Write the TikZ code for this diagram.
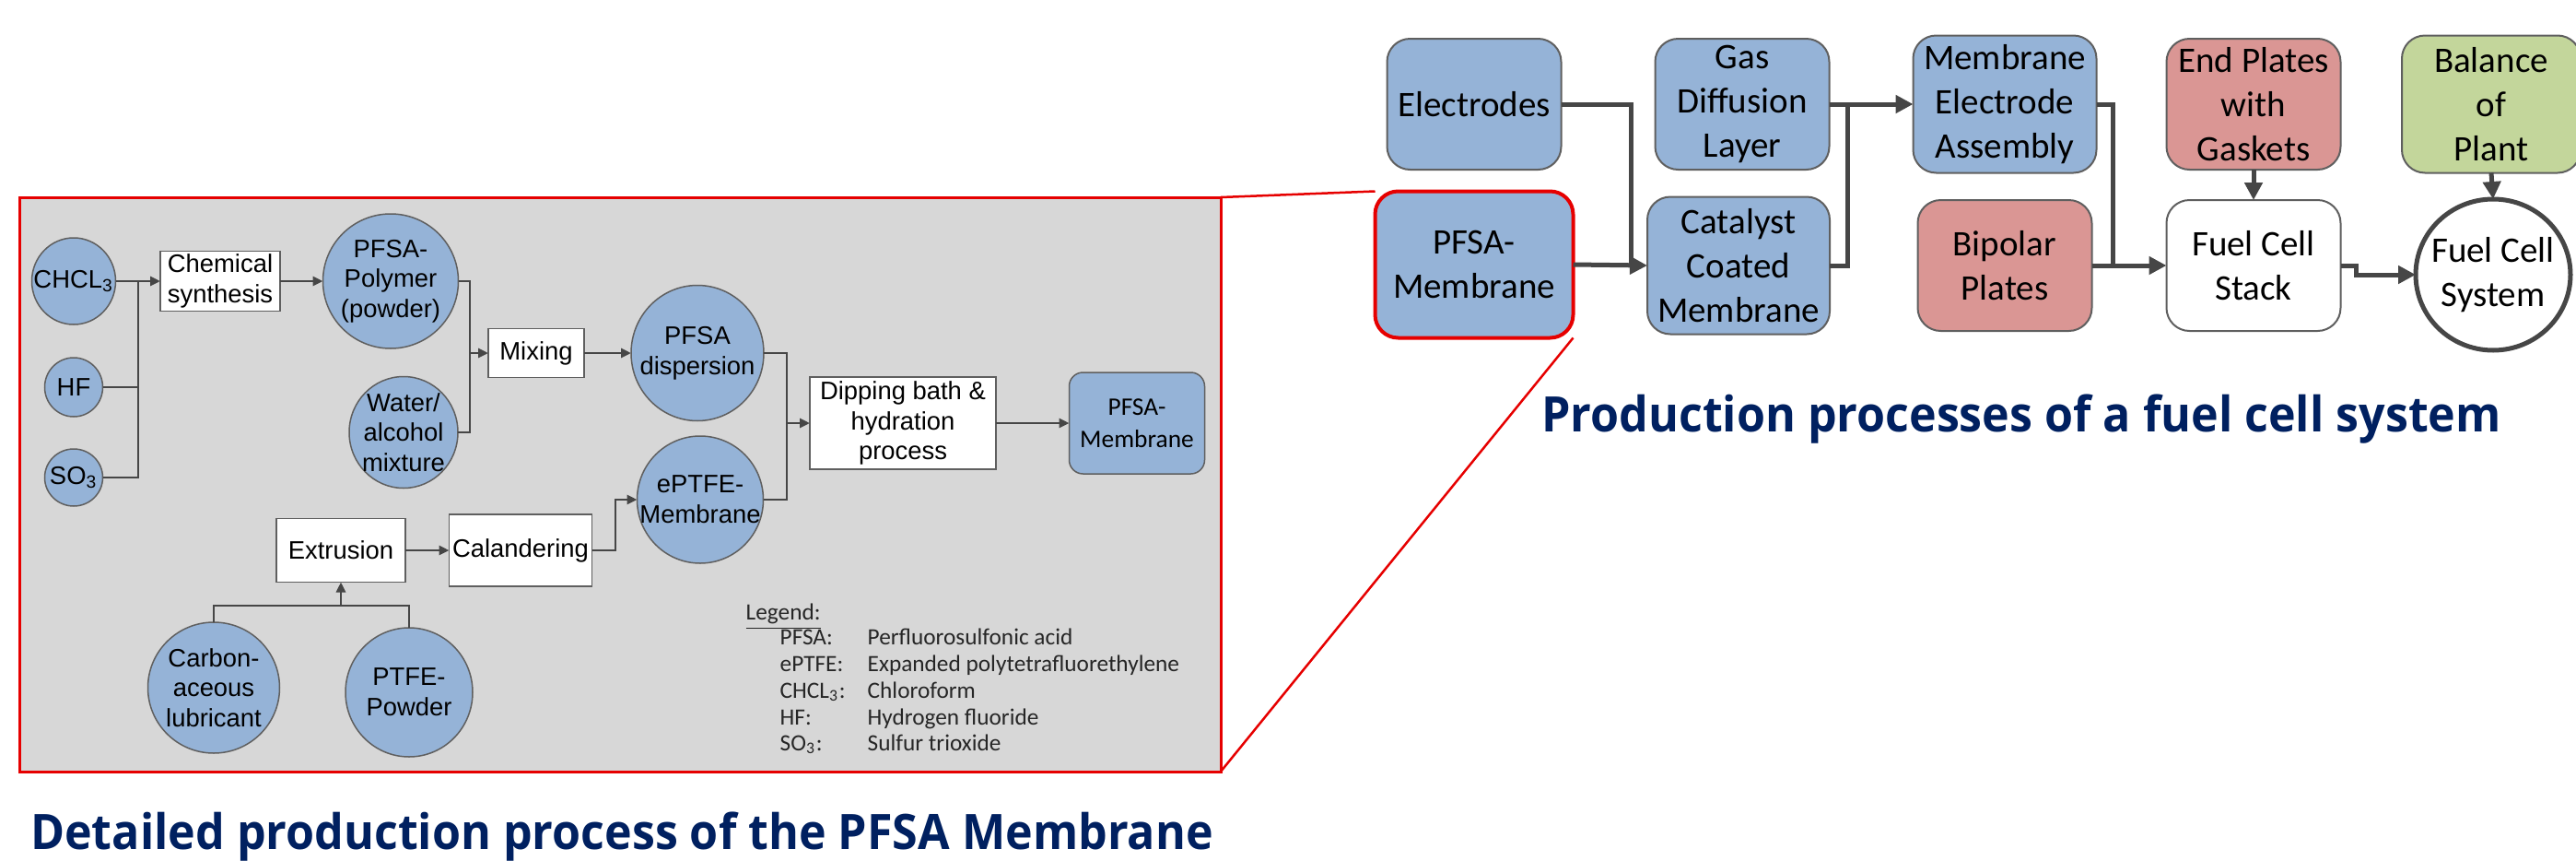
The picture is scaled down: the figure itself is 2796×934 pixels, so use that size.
\documentclass[tikz,border=0pt]{standalone}
\usepackage{fontspec}
\setmainfont{Carlito}
\newfontfamily\arialf{Liberation Sans}
\newfontfamily\titlef[FakeStretch=0.945]{Open Sans}
\usetikzlibrary{shapes.geometric,arrows.meta}
\definecolor{bluef}{RGB}{149,179,215}
\definecolor{redf}{RGB}{218,150,148}
\definecolor{greenf}{RGB}{195,214,155}
\definecolor{navy}{RGB}{0,32,96}
\definecolor{panelg}{RGB}{215,215,215}
\definecolor{bord}{RGB}{95,95,95}
\definecolor{lnc}{RGB}{70,70,70}
\definecolor{redl}{RGB}{230,0,0}
\begin{document}
\begin{tikzpicture}[x=0.1mm,y=-0.1mm,
  lfont/.style={font=\arialf\fontsize{7.8pt}{9.3pt}\selectfont},
  ell/.style={ellipse, draw=bord, fill=bluef, line width=0.15mm, inner sep=0pt, outer sep=0pt},
  ltxt/.style={lfont, align=center, inner sep=0pt},
  sbox/.style={rectangle, draw=bord, fill=white, line width=0.15mm, inner sep=0pt, outer sep=0pt, lfont, align=center},
  ln/.style={draw=lnc, line width=0.28mm},
  arr/.style={ln, -{Triangle[length=1.1mm,width=1.0mm]}},
  rbox/.style={rectangle, rounded corners=2.5mm, draw=bord, line width=0.2mm, inner sep=0pt, outer sep=0pt,
     font=\fontsize{11.1pt}{13.7pt}\selectfont, align=center},
  Ln/.style={draw=lnc, line width=0.5mm},
  Arr/.style={Ln, -{Triangle[length=1.9mm,width=1.9mm]}},
  redln/.style={draw=redl, line width=0.25mm},
  legf/.style={font=\fontsize{7.2pt}{8.3pt}\selectfont, text=black!85, inner sep=0pt, anchor=base west},
  ttl/.style={font=\titlef\bfseries\fontsize{15.1pt}{18pt}\selectfont, text=navy, inner sep=0pt, anchor=base}
]
\useasboundingbox (0,0) rectangle (2796,934);

% ---------- left panel ----------
\node[rectangle, draw=redl, fill=panelg, line width=0.3mm, minimum width=130.4mm, minimum height=62.3mm, inner sep=0pt, outer sep=0pt] (panel) at (673,525.5) {};

\node[ell, minimum width=9.1mm, minimum height=9.4mm, label={[ltxt]center:{CHCL\textsubscript{3}}}] (chcl) at (80,305) {};
\node[ell, minimum width=6.3mm, minimum height=6.4mm, label={[ltxt]center:{HF}}] (hf) at (80,420) {};
\node[ell, minimum width=6.3mm, minimum height=6.2mm, label={[ltxt]center:{SO\textsubscript{3}}}] (so) at (80,518) {};
\node[sbox, minimum width=13.0mm, minimum height=6.5mm] (chem) at (239,305) {Chemical\\synthesis};
\node[ell, minimum width=14.7mm, minimum height=14.6mm, label={[ltxt]center:{PFSA-\\Polymer\\(powder)}}] (poly) at (424,305) {};
\node[ell, minimum width=11.8mm, minimum height=12.1mm, label={[ltxt]center:{Water/\\alcohol\\mixture}}] (water) at (438,469) {};
\node[sbox, minimum width=10.4mm, minimum height=5.3mm] (mix) at (582,383) {Mixing};
\node[ell, minimum width=14.4mm, minimum height=14.7mm, label={[ltxt]center:{PFSA\\dispersion}}] (disp) at (757,383) {};
\node[ell, minimum width=13.7mm, minimum height=13.8mm, label={[ltxt]center:{ePTFE-\\Membrane}}] (eptfe) at (760,542) {};
\node[sbox, minimum width=20.2mm, minimum height=10.0mm] (dip) at (980,459) {Dipping bath \&\\hydration\\process};
\node[rectangle, rounded corners=1.5mm, draw=bord, fill=bluef, line width=0.15mm, minimum width=14.7mm, minimum height=11.0mm, inner sep=0pt, outer sep=0pt, align=center, font=\fontsize{7.8pt}{10pt}\selectfont] (pfsaS) at (1234,459) {PFSA-\\Membrane};
\node[sbox, minimum width=14.0mm, minimum height=6.9mm] (extr) at (370,597) {Extrusion};
\node[sbox, minimum width=15.5mm, minimum height=7.8mm] (cal) at (565,597) {Calandering};
\node[ell, minimum width=14.3mm, minimum height=14.2mm, label={[ltxt]center:{Carbon-\\aceous\\lubricant}}] (carb) at (232,746) {};
\node[ell, minimum width=13.8mm, minimum height=14.0mm, label={[ltxt]center:{PTFE-\\Powder}}] (ptfe) at (444,751) {};

\coordinate (j1) at (150,305);
\coordinate (j2) at (510,383);
\coordinate (j3) at (854,459);
\coordinate (j4) at (370,657);
\coordinate (j5) at (668,597);

\draw[ln] (hf.east) -| (j1);
\draw[ln] (so.east) -| (j1);
\draw[arr] (chcl.east) -- (chem.west);
\draw[arr] (chem.east) -- (poly.west);
\draw[ln] (poly.east) -| (j2);
\draw[ln] (water.east) -| (j2);
\draw[arr] (j2) -- (mix.west);
\draw[arr] (mix.east) -- (disp.west);
\draw[ln] (disp.east) -| (j3);
\draw[ln] (eptfe.east) -| (j3);
\draw[arr] (j3) -- (dip.west);
\draw[arr] (dip.east) -- (pfsaS.west);
\draw[arr] (extr.east) -- (cal.west);
\draw[arr] (cal.east) -- (j5) |- (eptfe.west);
\draw[ln] (carb.north) |- (j4);
\draw[ln] (ptfe.north) |- (j4);
\draw[arr] (j4) -- (extr.south);

% legend
\node[legf] (lg0) at (809,672) {\underline{Legend:}};
\node[legf] (lg1a) at (846,699) {PFSA:};
\node[legf] (lg1b) at (941,699) {Perfluorosulfonic acid};
\node[legf] (lg2a) at (846,728) {ePTFE:};
\node[legf] (lg2b) at (941,728) {Expanded polytetrafluorethylene};
\node[legf] (lg3a) at (846,757) {CHCL\textsubscript{3}:};
\node[legf] (lg3b) at (941,757) {Chloroform};
\node[legf] (lg4a) at (846,786) {HF:};
\node[legf] (lg4b) at (941,786) {Hydrogen fluoride};
\node[legf] (lg5a) at (846,814) {SO\textsubscript{3}:};
\node[legf] (lg5b) at (941,814) {Sulfur trioxide};

% ---------- right part ----------
\node[rbox, fill=bluef, minimum width=18.9mm, minimum height=14.2mm] (elec) at (1600,113) {Electrodes};
\node[rbox, fill=bluef, draw=redl, line width=0.4mm, minimum width=21.5mm, minimum height=15.9mm] (pfsaB) at (1600,287) {PFSA-\\Membrane};
\node[rbox, fill=bluef, minimum width=18.9mm, minimum height=14.2mm] (gdl) at (1891,113) {Gas\\Diffusion\\Layer};
\node[rbox, fill=bluef, minimum width=19.8mm, minimum height=14.9mm] (ccm) at (1887,288) {Catalyst\\Coated\\Membrane};
\node[rbox, fill=bluef, minimum width=19.9mm, minimum height=14.9mm] (mea) at (2176,113) {Membrane\\Electrode\\Assembly};
\node[rbox, fill=redf, minimum width=18.9mm, minimum height=14.2mm] (bip) at (2176,288) {Bipolar\\Plates};
\node[rbox, fill=redf, minimum width=18.9mm, minimum height=14.2mm] (endp) at (2446,113) {End Plates\\with\\Gaskets};
\node[rbox, fill=white, minimum width=18.9mm, minimum height=14.2mm] (stack) at (2446,288) {Fuel Cell\\Stack};
\node[rbox, fill=greenf, minimum width=19.4mm, minimum height=14.9mm] (bop) at (2704,113) {Balance\\of\\Plant};
\node[ellipse, draw=lnc, line width=0.5mm, fill=white, minimum width=16.8mm, minimum height=16.4mm, inner sep=0pt, outer sep=0pt,
  label={[align=center, inner sep=0pt, font=\fontsize{11.1pt}{13.7pt}\selectfont]center:{Fuel Cell\\System}}] (fcs) at (2706,298) {};

\coordinate (j6) at (1770,288);
\coordinate (j7) at (2005,113);
\coordinate (j8) at (2293,288);
\coordinate (j9) at (2557,288);

\draw[Ln] (elec.east) -| (j6);
\draw[Arr] (pfsaB.east) -- (ccm.west);
\draw[Ln] (ccm.east) -| (j7);
\draw[Arr] (gdl.east) -- (mea.west);
\draw[Ln] (mea.east) -| (j8);
\draw[Arr] (bip.east) -- (stack.west);
\draw[Arr] (endp.south) -- (stack.north);
\draw[Arr] (bop.south) -- (fcs.north);
\draw[Arr] (stack.east) -- (j9) |- (fcs.west);

% red zoom lines
\draw[redln] (panel.north east) -- (pfsaB.north west);
\draw[redln] (panel.south east) -- (pfsaB.south east);

% titles
\node[ttl] (t1) at (2194,468) {Production processes of a fuel cell system};
\node[ttl] (t2) at (675,921) {Detailed production process of the PFSA Membrane};
\end{tikzpicture}
\end{document}
